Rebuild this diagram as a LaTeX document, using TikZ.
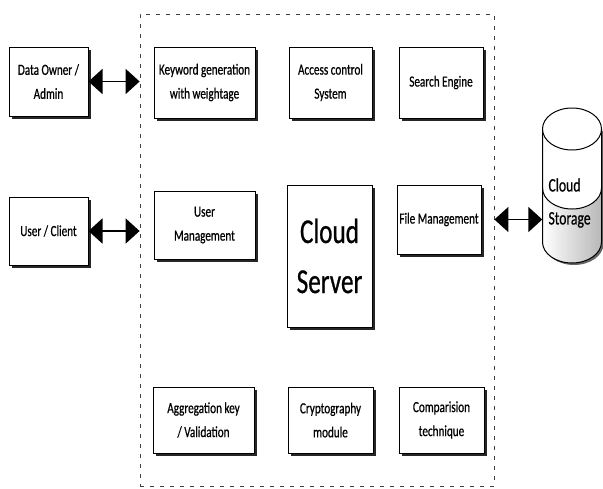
\documentclass[tikz,border=0pt]{standalone}
\usepackage{fontspec}
\setmainfont{Carlito}[FakeStretch=0.72, FakeBold=0.6]
\usetikzlibrary{arrows.meta,positioning}

\begin{document}
\begin{tikzpicture}[
    x=1pt, y=-1pt,
    module/.style={draw, line width=1pt, fill=white, align=center, inner sep=2pt, font=\fontsize{15.5}{24}\selectfont,
        preaction={fill=black!85, transform canvas={xshift=2.6pt, yshift=-2.6pt}}},
    boundary/.style={draw=black!75, line width=0.8pt, dash pattern=on 4pt off 6pt, inner sep=0pt, minimum width=354pt, minimum height=472pt},
    link/.style={{Triangle[length=14pt,width=25pt]}-{Triangle[length=14pt,width=25pt]}, line width=1.8pt},
    drum/.style={line width=1pt},
    node distance=33pt and 33pt
]
\useasboundingbox (0,0) rectangle (603,488);

% server boundary
\node[boundary] (frame) at (317,250) {};

% outside actors
\node[module, minimum width=79pt, minimum height=69pt] (owner) at (48.5,81.5) {Data Owner /\\Admin};
\node[module, minimum width=79pt, minimum height=68pt] (client) at (48.5,231) {User / Client};

% top row
\node[module, minimum width=101pt, minimum height=71pt] (keyword) at (204.5,82.5) {Keyword generation\\with weightage};
\node[module, minimum width=83pt, minimum height=71pt, right=33pt of keyword] (access) {Access control\\System};
\node[module, minimum width=84pt, minimum height=71pt, right=26pt of access] (search) {Search Engine};

% middle row
\node[module, minimum width=101pt, minimum height=68pt] (usermgmt) at (204.5,225) {User\\Management};
\node[module, minimum width=85pt, minimum height=142pt, font=\fontsize{35}{50}\selectfont] (server) at (329.5,256) {Cloud\\Server};
\node[module, minimum width=84pt, minimum height=69pt] (files) at (439,219.5) {File Management};

% bottom row
\node[module, minimum width=101pt, minimum height=66pt] (aggkey) at (203.5,420) {Aggregation key\\/ Validation};
\node[module, minimum width=85pt, minimum height=66pt, right=33pt of aggkey] (crypto) {Cryptography\\module};
\node[module, minimum width=85pt, minimum height=66pt, right=25pt of crypto] (compare) {Comparision\\technique};

% storage drum
\fill[black!60] (544.5,131) -- (544.5,244) arc[start angle=180, end angle=360, x radius=29.5pt, y radius=21pt] -- (603.5,131) -- cycle;
\fill[left color=white, right color=black!28] (542.5,129) -- (542.5,242) arc[start angle=180, end angle=360, x radius=29.5pt, y radius=21pt] -- (601.5,129) -- cycle;
\fill[white] (542.5,129) -- (542.5,188) arc[start angle=180, end angle=360, x radius=29.5pt, y radius=21pt] -- (601.5,129) -- cycle;
\draw[drum] (542.5,188) arc[start angle=180, end angle=360, x radius=29.5pt, y radius=21pt];
\draw[drum] (542.5,129) -- (542.5,242) arc[start angle=180, end angle=360, x radius=29.5pt, y radius=21pt] -- (601.5,129);
\draw[drum, fill=white] (572,129) ellipse [x radius=29.5pt, y radius=21pt];
\node[align=left, text width=47pt, inner xsep=6pt, font=\fontsize{19}{33}\selectfont] (store) at (572,203) {Cloud\\Storage};

% links across the boundary
\draw[link] (owner) -- (owner -| frame.west);
\draw[link] (client) -- (client -| frame.west);
\draw[link] (files -| frame.east) -- (files -| store.west);
\end{tikzpicture}
\end{document}
